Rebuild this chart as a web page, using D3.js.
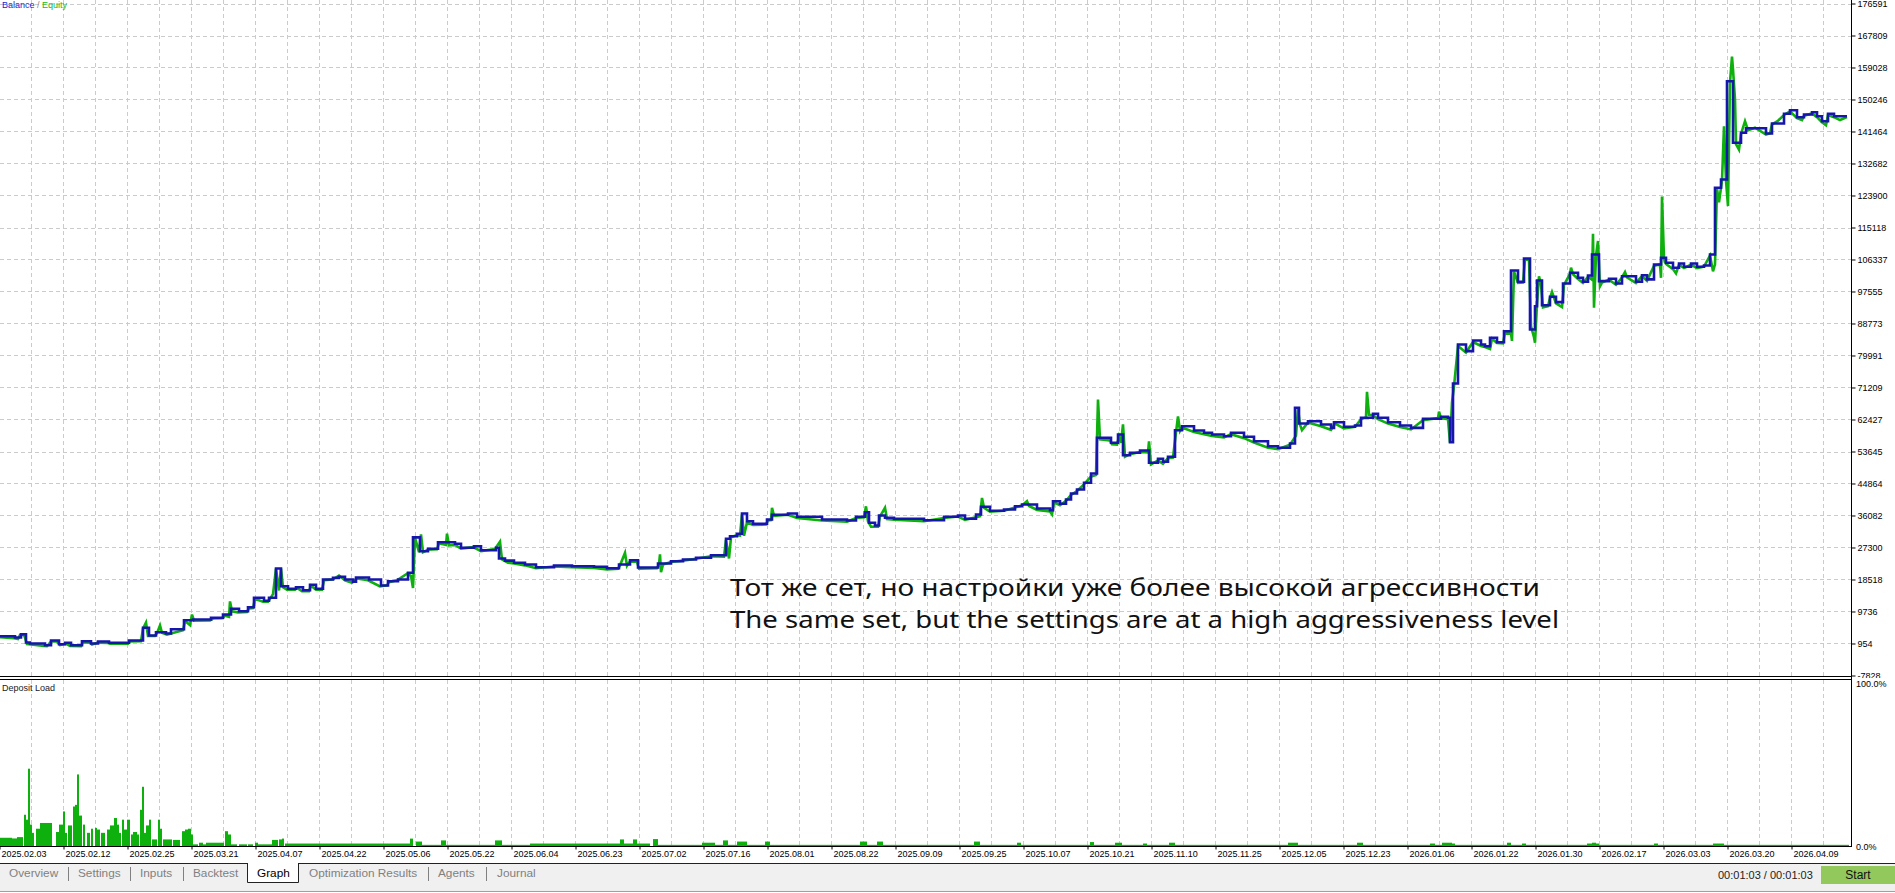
<!DOCTYPE html>
<html>
<head>
<meta charset="utf-8">
<script src="https://cdn.jsdelivr.net/npm/d3@7"></script>
<style>
  body { margin: 0; background: #fff; overflow: hidden; }
  text { font-family: "Liberation Sans", Arial, sans-serif; }
</style>
</head>
<body>
<div id="chart"></div>
<script>
// balance by deal number (step line)
var balance = [
  [0,2960],[15,2600],[21,3510],[26,1230],[30,960],[45,490],[51,1780],[59,760],[65,1150],[71,490],[82,1590],[91,960],[98,1500],[109,1150],[129,1780],[143,5260],[149,3150],[156,4060],[166,3700],[171,4880],[184,7350],[193,7540],[211,8010],[223,8910],[231,10480],[239,9820],[248,10920],[254,13500],[264,12680],[269,13500],[276,21540],[281,16680],[288,15970],[296,16410],[303,15580],[310,17070],[316,15970],[323,18520],[333,18990],[339,19260],[345,18520],[353,17890],[356,19070],[369,18520],[381,16870],[388,18050],[398,18520],[408,20360],[413,30080],[420,26290],[428,26940],[438,28760],[455,28320],[461,27220],[474,27660],[481,26560],[496,27220],[499,24300],[505,23700],[514,23100],[525,22640],[536,21900],[554,22360],[572,22170],[594,22000],[607,21620],[619,22640],[630,23820],[638,21810],[658,22910],[671,23540],[683,24010],[696,24480],[711,25190],[726,29690],[730,30400],[737,31060],[742,36630],[747,34520],[753,33810],[767,34990],[772,36280],[788,36630],[797,35730],[822,34990],[847,34710],[856,35730],[865,36990],[869,34080],[875,33340],[879,36080],[885,35450],[894,35180],[924,34790],[944,35730],[958,36080],[965,35180],[976,36360],[981,38470],[990,37370],[1004,37730],[1015,38640],[1022,39100],[1037,38000],[1050,37540],[1053,40010],[1060,39290],[1066,40470],[1071,42120],[1077,43220],[1084,45060],[1091,47610],[1097,57410],[1111,56030],[1118,58310],[1123,52630],[1130,53290],[1140,53920],[1149,50550],[1158,51640],[1163,50820],[1168,52190],[1175,59490],[1182,60590],[1194,59410],[1204,58780],[1212,58310],[1224,57850],[1231,58780],[1244,57680],[1254,56470],[1268,55100],[1278,54660],[1290,55840],[1295,65640],[1299,61330],[1308,61960],[1321,61060],[1331,60140],[1334,61690],[1344,60430],[1355,60780],[1361,62900],[1373,63990],[1378,62900],[1388,61690],[1400,60780],[1411,60140],[1423,62620],[1441,63170],[1448,62900],[1450,56200],[1453,72310],[1458,83010],[1466,81190],[1473,84110],[1481,83010],[1485,82540],[1490,84850],[1497,83640],[1504,86660],[1511,103320],[1518,100220],[1524,106620],[1530,87130],[1535,93520],[1537,100580],[1542,93800],[1550,96100],[1556,94650],[1563,99760],[1570,102690],[1578,101320],[1583,100220],[1588,101960],[1592,107710],[1599,100390],[1609,101050],[1616,99760],[1622,101760],[1636,100220],[1642,102030],[1647,100870],[1654,104970],[1661,106800],[1666,105430],[1673,104060],[1679,105240],[1684,104330],[1691,105240],[1697,104330],[1704,104690],[1710,107710],[1715,126020],[1721,128290],[1727,155270],[1733,138360],[1741,141110],[1746,142370],[1766,140910],[1772,143660],[1784,146320],[1790,147310],[1797,145390],[1804,146130],[1812,146760],[1817,145660],[1822,144290],[1828,146320],[1834,145660],[1847,145660]
];

// equity by deal number
var equity = [
  [0,2700],[14,2400],[18,2200],[20,3300],[24,3400],[27,800],[31,700],[44,300],[47,200],[51,1500],[57,1500],[60,500],[66,900],[70,300],[81,200],[83,1300],[90,1200],[92,700],[98,1200],[108,1100],[110,900],[128,900],[130,1500],[141,1600],[143,5000],[146,6700],[148,3000],[155,3000],[157,3800],[160,5900],[162,3900],[167,3400],[171,3700],[183,4600],[185,7100],[190,6000],[192,8900],[194,7200],[210,7300],[213,7800],[222,7900],[225,8600],[229,8300],[230,12500],[232,9800],[238,9500],[247,9600],[249,10600],[253,10700],[255,13200],[263,12400],[268,12400],[270,13200],[273,14500],[276,21500],[279,15500],[281,21500],[283,16400],[287,15700],[295,15700],[297,16200],[302,15300],[309,15300],[311,16800],[316,15700],[322,15700],[324,18300],[332,18500],[334,18700],[339,19600],[345,18300],[352,17600],[357,18800],[368,18300],[380,16600],[387,16900],[389,17800],[397,18300],[407,20100],[411,19500],[413,16200],[415,30000],[419,26000],[421,30900],[423,26000],[428,26700],[437,26800],[439,28500],[446,28000],[447,31100],[449,27900],[455,28000],[461,27000],[473,27400],[481,26300],[495,26900],[500,28900],[502,24000],[508,23100],
  [514,22900],[525,22400],[536,21600],[554,22100],[572,21900],[594,21700],[607,21300],[618,21500],[620,22400],[625,25800],[627,22300],[630,23500],[637,23400],[639,21500],[657,21600],[659,22700],[660,25400],[661,20500],[663,22600],[671,23300],[683,23700],[696,24200],[711,24900],[724,24800],[726,29400],[729,24300],[731,30100],[737,30700],[740,30600],[742,36400],[744,30500],[747,34200],[753,33500],[766,33600],[768,34700],[771,34800],[772,38200],[774,36000],[788,36300],[797,35400],[822,34700],[847,34400],[856,35400],[864,35600],[866,38600],[868,34500],[871,33000],[878,33000],[880,35800],[885,38200],[887,35100],[894,34900],[924,34500],[944,35400],[958,35800],[965,34900],[976,35600],[980,35900],[982,40900],[984,38200],[990,37100],[1004,37400],[1015,38300],[1022,38800],[1027,40000],[1029,38700],[1037,37600],[1050,37200],[1052,36400],[1054,39700],
  [1060,38900],[1066,40100],[1071,41700],[1077,42800],[1084,44600],[1091,46800],[1096,47200],[1098,67900],[1100,57000],[1110,56700],[1112,55600],[1117,55500],[1119,57800],[1121,56000],[1123,61100],[1125,52200],[1130,52900],[1140,53500],[1148,53400],[1149,56400],[1151,50100],[1158,51200],[1163,50300],[1168,51800],[1173,52000],[1176,58900],[1178,63300],[1180,59300],[1182,60200],[1194,59000],[1204,58400],[1212,57900],[1224,57500],[1231,58400],[1244,57300],[1254,56100],[1268,54700],[1278,54300],[1290,55500],[1296,58000],[1298,65400],[1300,61000],[1302,59500],[1308,61600],[1321,60600],[1331,59600],[1335,61300],[1344,60000],[1355,60400],[1361,62500],[1366,63000],[1367,70000],[1369,63700],[1373,63600],[1378,62500],[1388,61300],[1400,60400],[1411,59700],[1423,62200],[1438,62800],[1439,64600],[1441,62800],[1448,62500],[1450,56100],[1452,67100],[1454,71500],[1458,82600],[1466,80800],[1473,83700],[1481,82600],
  [1485,82300],[1490,81800],[1492,84600],[1497,83400],[1503,83300],[1505,86300],[1511,86000],[1512,84000],[1514,103000],[1518,99900],[1523,100000],[1525,106300],[1529,106300],[1531,88000],[1534,85000],[1535,83500],[1537,94000],[1539,101700],[1541,99500],[1543,93200],[1548,93500],[1550,95800],[1552,97400],[1556,94300],[1562,93300],[1564,99400],[1570,102400],[1571,104100],[1573,102300],[1578,101000],[1583,99900],[1588,101600],[1592,100800],[1593,113400],[1594,93100],[1596,107400],[1598,111400],[1600,99000],[1602,100000],[1609,100800],[1616,99400],[1622,101400],[1625,102900],[1627,101400],[1636,99900],[1642,101800],[1647,100500],[1654,104600],[1660,105000],[1661,101300],[1662,123600],[1664,106500],[1666,105100],[1673,103700],[1676,102500],[1679,104900],[1684,104000],[1691,104900],[1697,104000],[1704,104400],[1710,107400],[1713,103100],[1715,105000],[1717,125800],[1719,122000],[1722,128000],[1724,142900],[1726,128000],[1728,121000],[1730,155000],[1732,162000],[1733,158500],[1735,150200],[1736,138000],[1739,136500],[1741,140800],[1745,144300],[1748,141800],[1755,142500],[1766,140600],[1770,141000],[1772,143400],[1778,144400],[1784,146000],[1790,147000],[1797,145100],[1802,144600],[1804,145800],[1812,146400],[1817,145400],[1822,144000],[1826,143200],[1828,146000],[1834,145400],[1840,144600],[1847,145400]
];

// deposit load %, each entry holds until the next deal
var depositLoad = [
  [0,5],[12,4.6],[17,5.4],[23,0],[24,19],[26,16],[28,47],[30,13],[32,8],[34,0],[36,10.5],[40,14],[52,0],[56,8.5],[59,13],[63,21],[65,8],[67,0],[68,12.5],[72,0],[73,24],[75,25],[77,43.5],[79,18.5],[82,0],[83,13],[85,0],[87,8],[90,0],[91,10.5],[93,0],[95,11],[97,10],[100,0],[101,8],[105,0],[107,10],[110,12.5],[114,17],[117,13],[119,8],[121,0],[122,16],[124,10],[127,16],[130,0],[131,7],[133,8.5],[137,7],[139,0],[140,22],[142,36],[144,8],[146,12.5],[149,16],[151,0],[152,4],[157,0],[158,16],[160,10.5],[162,0],[163,4],[172,0],[173,3.7],[180,0],[182,9],[185,10],[188,10.5],[191,7],[193,1],[198,0],[199,2],[203,1],[206,2],[224,0],[225,9],[228,7],[231,1],[237,0],[239,1],[247,0],[248,1],[253,0],[255,2],[258,1],[272,3.7],[278,0],[279,4],[282,4.5],[284,0],
  [285,1.5],[410,4.5],[413,0],[416,2.7],[422,0.7],[441,3.4],[446,0.7],[495,3.4],[502,0.7],[530,1.5],[620,4],[624,1.5],[633,4],[637,1.5],[650,0],[653,4.2],[658,0.7],[702,2],[715,0.7],[723,3.4],[728,0.7],[737,2.7],[747,0.7],[765,2.7],[770,0.7],[860,2.7],[867,0.7],[877,2.7],[883,0.7],[974,2.7],[980,0.7],[1017,2],[1021,0.7],[1090,2.4],[1094,0.7],[1115,2],[1122,0.7],[1143,1.5],[1147,0.7],[1169,2],[1175,0.7],[1288,2],[1298,0.7],[1357,2],[1363,0.7],[1430,1.5],[1435,0.7],[1442,2],[1452,1.5],[1455,0.7],[1507,2],[1511,0.7],[1522,1.5],[1526,0.7],[1587,1.5],[1592,2],[1596,1.5],[1599,0.7],[1654,1.5],[1658,0.7],[1713,1.5],[1724,0.7],[1849,0]
];

var yTicks = [176591, 167809, 159028, 150246, 141464, 132682, 123900, 115118, 106337, 97555,
  88773, 79991, 71209, 62427, 53645, 44864, 36082, 27300, 18518, 9736, 954, -7828];

var dateLabels = ["2025.02.03","2025.02.12","2025.02.25","2025.03.21","2025.04.07","2025.04.22",
  "2025.05.06","2025.05.22","2025.06.04","2025.06.23","2025.07.02","2025.07.16","2025.08.01",
  "2025.08.22","2025.09.09","2025.09.25","2025.10.07","2025.10.21","2025.11.10","2025.11.25",
  "2025.12.05","2025.12.23","2026.01.06","2026.01.22","2026.01.30","2026.02.17","2026.03.03",
  "2026.03.20","2026.04.09"];

var tabs = ["Overview","Settings","Inputs","Backtest","Graph","Optimization Results","Agents","Journal"];
var note = ["Тот же сет, но настройки уже более высокой агрессивности",
  "The same set, but the settings are at a high aggressiveness level"];

var width = 1895, height = 893;
var plotRight = 1851.5;
var mainTop = 3.5, mainBottom = 675.5;
var loadTop = 681.5, loadBottom = 846;
var balColor = "#1616ac", eqColor = "#0db00d";

var svg = d3.select("#chart")
  .append("svg")
    .attr("width", width)
    .attr("height", height);

var x = d3.scaleLinear().domain([0, 1851]).range([0, 1851]);
var y = d3.scaleLinear().domain([-7828, 176591]).range([mainBottom, mainTop]);
var yLoad = d3.scaleLinear().domain([0, 100]).range([loadBottom, loadTop]);
var xDate = d3.scalePoint().domain(dateLabels).range([-0.5, 1791.5]);

// grid
var gridX = d3.range(31.5, plotRight, 32);
var grid = svg.append("g")
  .attr("stroke", "#cbcbcb")
  .attr("stroke-dasharray", "4,3");
grid.selectAll(".gv")
  .data(gridX)
  .enter().append("line")
    .attr("x1", function(d){ return d; })
    .attr("x2", function(d){ return d; })
    .attr("y1", 0).attr("y2", 676);
grid.selectAll(".gv2")
  .data(gridX)
  .enter().append("line")
    .attr("x1", function(d){ return d; })
    .attr("x2", function(d){ return d; })
    .attr("y1", 680).attr("y2", 846);
grid.selectAll(".gh")
  .data(yTicks.slice(0, -1))
  .enter().append("line")
    .attr("x1", 0).attr("x2", plotRight)
    .attr("y1", function(d){ return Math.round(y(d)) + 0.5; })
    .attr("y2", function(d){ return Math.round(y(d)) + 0.5; });

// lines
var eqLine = d3.line()
  .x(function(d){ return x(d[0]); })
  .y(function(d){ return y(d[1]); });
var balLine = d3.line()
  .curve(d3.curveStepAfter)
  .x(function(d){ return x(d[0]); })
  .y(function(d){ return y(d[1]); });

svg.append("path")
  .datum(equity)
  .attr("fill", "none")
  .attr("stroke", eqColor)
  .attr("stroke-width", 2.6)
  .attr("d", eqLine);

svg.append("path")
  .datum(balance)
  .attr("fill", "none")
  .attr("stroke", balColor)
  .attr("stroke-width", 2.6)
  .attr("stroke-linejoin", "miter")
  .attr("d", balLine);

// legend
var leg = svg.append("text")
  .attr("x", 2).attr("y", 7.5)
  .style("font-size", "9px");
leg.append("tspan").attr("fill", "#2323d6").text("Balance");
leg.append("tspan").attr("fill", "#888").text(" / ");
leg.append("tspan").attr("fill", "#10c010").text("Equity");

// annotation
svg.selectAll(".note")
  .data(note)
  .enter().append("text")
    .attr("x", 730)
    .attr("y", function(d, i){ return 596 + i * 31.5; })
    .attr("textLength", function(d, i){ return i == 0 ? 810 : 829; })
    .attr("lengthAdjust", "spacingAndGlyphs")
    .style("font-family", "'Noto Sans', 'Open Sans', sans-serif")
    .style("font-size", "23.5px")
    .attr("fill", "#111")
    .text(function(d){ return d; });

// deposit load bars
var bars = depositLoad.slice(0, -1).map(function(d, i){
  return {x0: d[0], x1: depositLoad[i + 1][0], v: d[1]};
}).filter(function(d){ return d.v > 0; });

svg.append("g")
  .selectAll("rect")
  .data(bars)
  .enter().append("rect")
    .attr("x", function(d){ return x(d.x0); })
    .attr("width", function(d){ return x(d.x1) - x(d.x0); })
    .attr("y", function(d){ return yLoad(d.v); })
    .attr("height", function(d){ return loadBottom - yLoad(d.v); })
    .attr("fill", eqColor);

svg.append("text")
  .attr("x", 2).attr("y", 690.5)
  .style("font-size", "9px")
  .attr("fill", "#222")
  .text("Deposit Load");

// frame lines
var frame = svg.append("g").attr("stroke", "#000").attr("stroke-width", 1);
frame.append("line").attr("x1", 0).attr("x2", plotRight).attr("y1", 676.5).attr("y2", 676.5);
frame.append("line").attr("x1", 0).attr("x2", plotRight).attr("y1", 679.5).attr("y2", 679.5);
frame.append("line").attr("x1", plotRight).attr("x2", plotRight).attr("y1", 0).attr("y2", 847);
frame.append("line").attr("x1", 0).attr("x2", plotRight).attr("y1", 846.5).attr("y2", 846.5);

// right axis (clip box is in the axis group's own coordinates)
svg.append("clipPath").attr("id", "axclip")
  .append("rect").attr("x", -5).attr("y", -5).attr("width", 60).attr("height", 683);

var yAxis = svg.append("g")
  .attr("transform", "translate(" + plotRight + ",0)")
  .attr("clip-path", "url(#axclip)")
  .call(d3.axisRight(y).tickValues(yTicks).tickSize(4).tickPadding(2)
    .tickFormat(function(d){ return String(d); }));
yAxis.select(".domain").remove();
yAxis.selectAll("text")
  .style("font-family", "'Liberation Sans', Arial, sans-serif")
  .style("font-size", "9px")
  .attr("fill", "#000");

svg.append("text").attr("x", 1856).attr("y", 686.5)
  .style("font-size", "9px").text("100.0%");
svg.append("text").attr("x", 1856).attr("y", 849.5)
  .style("font-size", "9px").text("0.0%");

// date axis
var xAxis = svg.append("g")
  .attr("transform", "translate(0,846.5)")
  .call(d3.axisBottom(xDate).tickSize(3).tickPadding(1));
xAxis.select(".domain").remove();
xAxis.selectAll("text")
  .attr("text-anchor", "start")
  .attr("dx", "1.5")
  .style("font-family", "'Liberation Sans', Arial, sans-serif")
  .style("font-size", "9px")
  .attr("fill", "#000");

// tab bar
var tabY = 863;
svg.append("rect").attr("x", 0).attr("y", tabY).attr("width", width).attr("height", 29).attr("fill", "#f0f0f0");
svg.append("line").attr("x1", 0).attr("x2", width).attr("y1", tabY + 0.5).attr("y2", tabY + 0.5).attr("stroke", "#222");
svg.append("line").attr("x1", 0).attr("x2", width).attr("y1", 891.5).attr("y2", 891.5).attr("stroke", "#a0a0a0");

var tabX = [9, 78, 140, 193, 257, 309, 438, 497];
var sepX = [68, 130, 183, 428, 486];

svg.append("path")
  .attr("d", "M247.5," + tabY + "V882.5H298.5V" + tabY)
  .attr("fill", "#fff")
  .attr("stroke", "#222");

svg.selectAll(".tab")
  .data(tabs)
  .enter().append("text")
    .attr("x", function(d, i){ return tabX[i]; })
    .attr("y", 877)
    .style("font-size", "11.8px")
    .attr("fill", function(d){ return d == "Graph" ? "#000" : "#808080"; })
    .text(function(d){ return d; });

svg.selectAll(".sep")
  .data(sepX)
  .enter().append("line")
    .attr("x1", function(d){ return d + 0.5; })
    .attr("x2", function(d){ return d + 0.5; })
    .attr("y1", 867).attr("y2", 881)
    .attr("stroke", "#808080");

svg.append("text").attr("x", 1718).attr("y", 879)
  .style("font-size", "11px").attr("fill", "#222")
  .text("00:01:03 / 00:01:03");

svg.append("rect").attr("x", 1821).attr("y", 866).attr("width", 74).attr("height", 18).attr("fill", "#93c85c");
svg.append("text").attr("x", 1858).attr("y", 879).attr("text-anchor", "middle")
  .style("font-size", "12px").attr("fill", "#111").text("Start");
</script>
</body>
</html>
